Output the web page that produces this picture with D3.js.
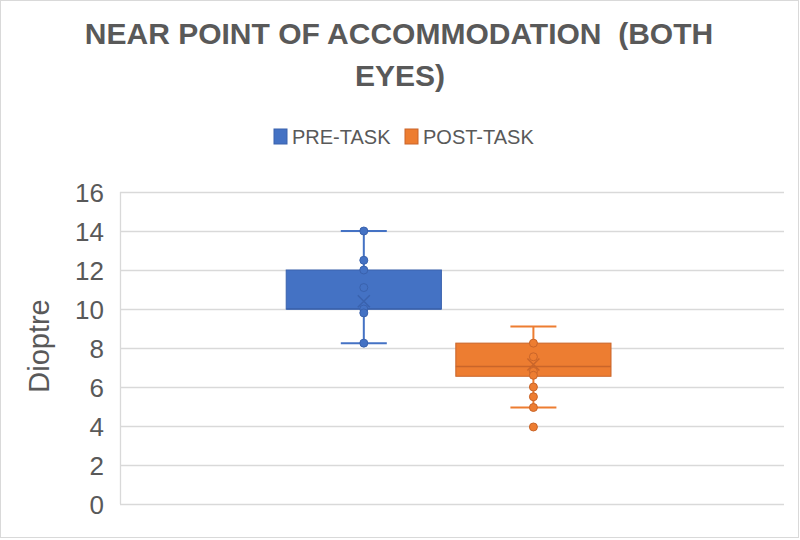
<!DOCTYPE html>
<html>
<head>
<meta charset="utf-8">
<script src="https://cdn.jsdelivr.net/npm/d3@7"></script>
<style>
  body { margin: 0; background: #fff; }
  svg text { font-family: "Liberation Sans", sans-serif; fill: #595959; }
</style>
</head>
<body>
<svg width="800" height="540"></svg>
<script>
// series names and colours
var series = ["PRE-TASK", "POST-TASK"];
var colors = ["#4472C4", "#ED7D31"];
var edges = ["#3A62AD", "#C9652A"];

// box summary per series
var whiskerLow = [8.25, 4.95];
var q1 = [10, 6.55];
var median = [10, 7.05];
var q3 = [12, 8.25];
var whiskerHigh = [14, 9.1];
var means = [10.4, 7.15];

// individual points shown per series
var prePoints = [14, 12.5, 12, 11.1, 10, 9.8, 8.25];
var postPoints = [8.25, 7.55, 6.8, 6.6, 6.0, 5.5, 4.95, 3.95];

var yTicks = [0, 2, 4, 6, 8, 10, 12, 14, 16];

var svg = d3.select("svg"),
  margin = { top: 192, right: 16, bottom: 36, left: 120 },
  width = +svg.attr("width") - margin.left - margin.right,
  height = +svg.attr("height") - margin.top - margin.bottom;

// chart border
svg.append("rect")
  .attr("x", 0.5).attr("y", 0.5)
  .attr("width", 798).attr("height", 537)
  .attr("fill", "none")
  .attr("stroke", "#d9d9d9");

var y = d3.scaleLinear().domain([0, 16]).range([height, 0]);
var x = d3.scaleBand()
  .domain(series)
  .range([0, width])
  .paddingInner(0.085)
  .paddingOuter(1)
  .align(0.49);

var g = svg.append("g")
  .attr("transform", "translate(" + margin.left + "," + margin.top + ")");

// gridlines
g.append("g")
  .selectAll("line")
  .data(yTicks)
  .enter()
  .append("line")
  .attr("x1", 0)
  .attr("x2", width)
  .attr("y1", function (d) { return Math.round(y(d)) + 0.5; })
  .attr("y2", function (d) { return Math.round(y(d)) + 0.5; })
  .attr("stroke", "#d9d9d9")
  .attr("stroke-width", 1.3);

g.append("line")
  .attr("x1", 0.5).attr("x2", 0.5)
  .attr("y1", y(16)).attr("y2", y(0))
  .attr("stroke", "#d9d9d9")
  .attr("stroke-width", 1.3);

// y axis labels
var yAxis = g.append("g")
  .attr("class", "axis axis--y")
  .call(d3.axisLeft(y).tickValues(yTicks).tickSize(0).tickPadding(16));
yAxis.select(".domain").remove();
yAxis.selectAll("text")
  .attr("fill", "#595959")
  .style("font-family", "'Liberation Sans', sans-serif")
  .style("font-size", "26px")
  .attr("dy", "0.36em");

svg.append("text")
  .attr("transform", "translate(49," + (margin.top + 154) + ") rotate(-90)")
  .attr("text-anchor", "middle")
  .style("font-size", "29px")
  .text("Dioptre");

// boxes
var cap = 46;
var points = [prePoints, postPoints];

series.forEach(function (s, i) {
  var bx = x(s), bw = x.bandwidth(), cx = bx + bw / 2;
  var sg = g.append("g").attr("class", "series");

  sg.append("line")
    .attr("x1", cx).attr("x2", cx)
    .attr("y1", y(whiskerHigh[i])).attr("y2", y(whiskerLow[i]))
    .attr("stroke", colors[i]).attr("stroke-width", 2);
  [whiskerHigh[i], whiskerLow[i]].forEach(function (v) {
    sg.append("line")
      .attr("x1", cx - cap / 2).attr("x2", cx + cap / 2)
      .attr("y1", y(v)).attr("y2", y(v))
      .attr("stroke", colors[i]).attr("stroke-width", 2);
  });

  sg.append("rect")
    .attr("x", bx)
    .attr("y", y(q3[i]))
    .attr("width", bw)
    .attr("height", y(q1[i]) - y(q3[i]))
    .attr("fill", colors[i])
    .attr("stroke", edges[i])
    .attr("stroke-width", 1);

  sg.append("line")
    .attr("x1", bx).attr("x2", bx + bw)
    .attr("y1", y(median[i])).attr("y2", y(median[i]))
    .attr("stroke", edges[i]).attr("stroke-width", 1.5);

  sg.selectAll("circle")
    .data(points[i])
    .enter()
    .append("circle")
    .attr("cx", cx)
    .attr("cy", function (d) { return y(d); })
    .attr("r", 4)
    .attr("fill", colors[i])
    .attr("stroke", edges[i])
    .attr("stroke-width", 1);

  var m = y(means[i]), k = 6;
  sg.append("path")
    .attr("d", "M" + (cx - k) + "," + (m - k) + "L" + (cx + k) + "," + (m + k) +
      "M" + (cx - k) + "," + (m + k) + "L" + (cx + k) + "," + (m - k))
    .attr("stroke", edges[i])
    .attr("stroke-width", 1.5)
    .attr("fill", "none");
});

// title
var title = svg.append("text")
  .attr("text-anchor", "middle")
  .style("font-size", "30px")
  .style("font-weight", "bold")
  .style("white-space", "pre");
title.append("tspan").attr("x", 399).attr("y", 44).text("NEAR POINT OF ACCOMMODATION  (BOTH");
title.append("tspan").attr("x", 400).attr("y", 86).text("EYES)");

// legend
var legend = svg.append("g").attr("transform", "translate(0,129)");
var lx = [274, 405];
series.forEach(function (s, i) {
  var lg = legend.append("g").attr("transform", "translate(" + lx[i] + ",0)");
  lg.append("rect")
    .attr("width", 13).attr("height", 15)
    .attr("fill", colors[i])
    .attr("stroke", edges[i]);
  lg.append("text")
    .attr("x", 18).attr("y", 15)
    .style("font-size", "20px")
    .text(s);
});
</script>
</body>
</html>
